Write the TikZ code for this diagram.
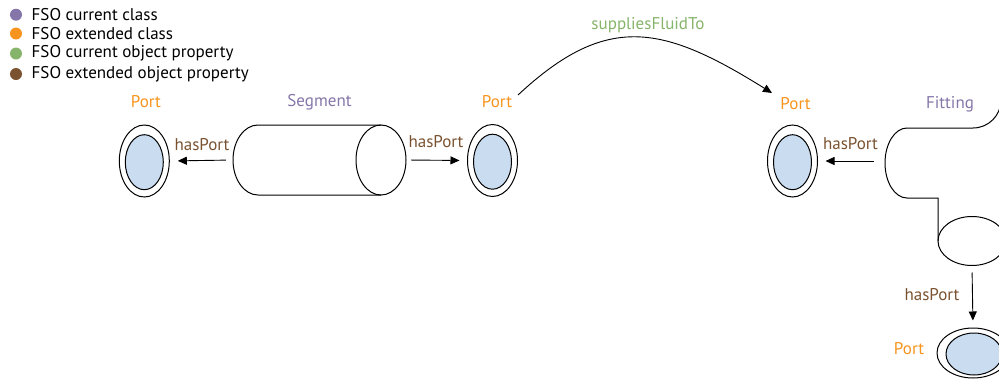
\documentclass[tikz,border=0pt]{standalone}
\usepackage{fontspec}
\setmainfont{PT Sans}
\usetikzlibrary{arrows.meta,shapes.geometric}
\definecolor{cpurple}{HTML}{8576A9}
\definecolor{corange}{HTML}{F7941E}
\definecolor{cgreen}{HTML}{86B46A}
\definecolor{cbrown}{HTML}{7A5230}
\definecolor{cblue}{HTML}{CADCF0}
\tikzset{
  txt/.style={font=\fontsize{17}{19}\selectfont, inner sep=0pt},
  legtxt/.style={txt, anchor=west, text=black},
  legdot/.style={circle, minimum size=12pt, inner sep=0pt},
  portout/.style={ellipse, draw, line width=1pt, inner sep=0pt, minimum width=50pt, minimum height=72pt},
  portin/.style={ellipse, draw, line width=1pt, fill=cblue, inner sep=0pt, minimum width=38pt, minimum height=55pt},
  hportout/.style={ellipse, draw, line width=1pt, inner sep=0pt, minimum width=72pt, minimum height=50pt},
  hportin/.style={ellipse, draw, line width=1pt, fill=cblue, inner sep=0pt, minimum width=56pt, minimum height=42pt},
  portlab/.style={txt, text=corange},
  classlab/.style={txt, text=cpurple},
  proplab/.style={txt, text=cbrown},
  arr/.style={-{Triangle[length=9pt,width=8pt]}, line width=0.9pt},
  shapeline/.style={line width=1pt},
  anchorbox/.style={inner sep=0pt, draw=none}
}
\begin{document}
\begin{tikzpicture}[x=1pt,y=-1pt]
\useasboundingbox (0,0) rectangle (999,378);
\clip (0,0) rectangle (999,378);

% legend
\node[legdot, fill=cpurple] (d1) at (16,14.7) {};
\node[legdot, fill=corange] (d2) at (16,33.5) {};
\node[legdot, fill=cgreen] (d3) at (16,53.5) {};
\node[legdot, fill=cbrown] (d4) at (16,74) {};
\node[legtxt] (l1) at (31.5,14.7) {FSO current class};
\node[legtxt] (l2) at (31.5,33.5) {FSO extended class};
\node[legtxt] (l3) at (31.5,53.5) {FSO current object property};
\node[legtxt] (l4) at (31.5,74) {FSO extended object property};

% segment (cylinder)
\node[anchorbox, minimum width=173pt, minimum height=70pt] (seg) at (319.5,160) {};
\draw[shapeline] (258,125) -- (381,125)
  (258,195) -- (381,195)
  (258,125) arc[start angle=90, end angle=270, x radius=25, y radius=-35];
\draw[shapeline] (381,160) ellipse[x radius=25, y radius=35];
\node[classlab] (segl) at (319.5,102) {Segment};

% ports
\node[portout] (p1) at (144.3,161) {};
\node[portin] (p1i) at (144.3,162.2) {};
\node[portlab] (p1l) at (146,101.5) {Port};

\node[portout] (p2) at (492.5,160.5) {};
\node[portin] (p2i) at (492.5,161.7) {};
\node[portlab] (p2l) at (497,101.5) {Port};

\node[portout] (p3) at (792.5,161) {};
\node[portin] (p3i) at (792.5,162.2) {};
\node[portlab] (p3l) at (795.5,104) {Port};

\node[hportout] (p4) at (973,353) {};
\node[hportin] (p4i) at (974,354) {};
\node[portlab] (p4l) at (909,349) {Port};

% fitting
\node[anchorbox, minimum width=116pt, minimum height=70pt] (fit) at (943,161) {};
\draw[shapeline] (907,128) -- (973,128) arc[start angle=90, end angle=0, radius=28] -- (1001,241);
\draw[shapeline] (907,128) arc[start angle=90, end angle=270, x radius=22, y radius=-35]
  -- (938,198) -- (938,241);
\node[ellipse, draw, line width=1pt, inner sep=0pt, minimum width=68pt, minimum height=49pt] (flow) at (972,241) {};
\node[classlab] (fitl) at (950,104) {Fitting};

% hasPort arrows
\draw[arr, shorten <=7pt, shorten >=8pt] (seg.west) -- (p1.east);
\node[proplab] (h1) at (202,145) {hasPort};
\draw[arr, shorten <=5pt, shorten >=7.5pt] (seg.east) -- (p2.west);
\node[proplab] (h2) at (436,142) {hasPort};
\draw[arr, shorten <=11pt, shorten >=7.5pt] (fit.west) -- (p3.east);
\node[proplab] (h3) at (850.5,144) {hasPort};
\draw[arr, shorten <=6.5pt, shorten >=7pt] (flow.south) -- (p4.north);
\node[proplab] (h4) at (932,295) {hasPort};

% suppliesFluidTo
\coordinate (a0) at (518,95);
\coordinate (a1) at (772,93);
\draw[arr] (a0) .. controls (607,12) and (663,25) .. (a1);
\node[txt, text=cgreen] (sf) at (648,25) {suppliesFluidTo};
\end{tikzpicture}
\end{document}
